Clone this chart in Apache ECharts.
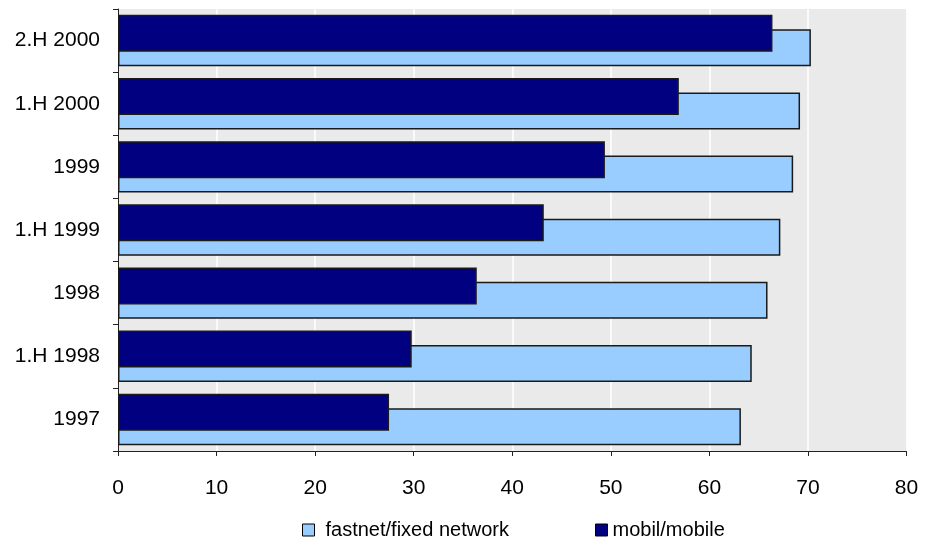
<!DOCTYPE html>
<html><head><meta charset="utf-8">
<script src="https://cdn.jsdelivr.net/npm/echarts@6/dist/echarts.min.js"></script>
<style>html,body{margin:0;padding:0;background:#fff}#c{width:925px;height:545px}</style>
</head><body><div id="c"></div>
<script>
const categories = ['1997','1.H 1998','1998','1.H 1999','1999','1.H 2000','2.H 2000'];
const fastnet = [63.2, 64.3, 65.9, 67.2, 68.5, 69.2, 70.3];
const mobile = [27.5, 29.8, 36.4, 43.2, 49.4, 56.9, 66.4];
const xTicks = [0, 10, 20, 30, 40, 50, 60, 70, 80];
const seriesNames = ['fastnet/fixed network', 'mobil/mobile'];

const font = 'Liberation Sans, Arial, sans-serif';
const chart = echarts.init(document.getElementById('c'), null, {renderer: 'canvas'});
chart.setOption({
  animation: false,
  backgroundColor: '#ffffff',
  grid: {left: 118, right: 18.5, top: 9, bottom: 94, show: true, backgroundColor: '#EAEAEA', borderWidth: 0},
  legend: [
    {data: [seriesNames[0]], left: 302, top: 520, padding: 0, itemWidth: 12, itemHeight: 12, icon: 'rect',
     itemStyle: {borderColor: '#000', borderWidth: 1},
     textStyle: {fontFamily: font, fontSize: 20, color: '#000', padding: [0, 0, 0, 6]}},
    {data: [seriesNames[1]], left: 595, top: 520, padding: 0, itemWidth: 12, itemHeight: 12, icon: 'rect',
     itemStyle: {borderColor: '#000', borderWidth: 1},
     textStyle: {fontFamily: font, fontSize: 20, color: '#000', padding: [0, 0, 0, 0]}}
  ],
  xAxis: {
    type: 'value', min: xTicks[0], max: xTicks[xTicks.length - 1], interval: 10,
    axisLine: {show: true, lineStyle: {color: '#222', width: 1}},
    axisTick: {show: true, length: 5, lineStyle: {color: '#222'}},
    axisLabel: {fontFamily: font, fontSize: 21, color: '#000', margin: 27},
    splitLine: {show: true, lineStyle: {color: '#ffffff', width: 1.5}}
  },
  yAxis: {
    type: 'category', data: categories,
    axisLine: {show: true, lineStyle: {color: '#222', width: 1}},
    axisTick: {show: true, length: 5, inside: false, lineStyle: {color: '#222'}},
    axisLabel: {fontFamily: font, fontSize: 21, color: '#000', margin: 18},
    splitLine: {show: false}
  },
  series: [
    {name: seriesNames[1], type: 'bar', data: mobile, barWidth: 37, barGap: '-61%',
     itemStyle: {color: '#000080', borderColor: '#1a1a1a', borderWidth: 1.5}, z: 3},
    {name: seriesNames[0], type: 'bar', data: fastnet, barWidth: 37, barGap: '-61%',
     itemStyle: {color: '#99CCFF', borderColor: '#1a1a1a', borderWidth: 1.5}, z: 2}
  ]
});
</script></body></html>
